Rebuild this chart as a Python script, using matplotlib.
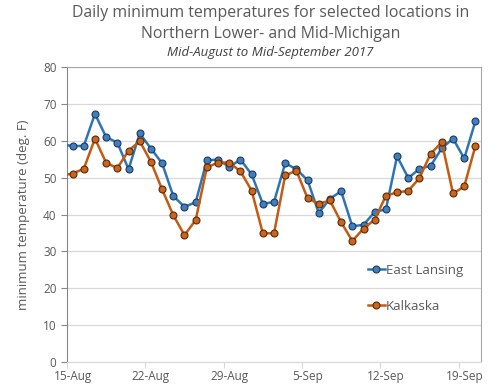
import numpy as np
import matplotlib.pyplot as plt

# days counted from 15-Aug (day 0); day -1 is 14-Aug, clipped by the axis
days = np.arange(-1, 37)
east_lansing = [59.0, 58.6, 58.6, 67.3, 61.0, 59.5, 52.3, 62.0, 57.9, 53.9, 45.0,
                42.1, 43.3, 54.7, 54.9, 52.9, 54.9, 50.9, 42.9, 43.4, 53.9,
                52.3, 49.3, 40.4, 44.3, 46.3, 36.8, 37.2, 40.7, 41.4, 55.8,
                49.9, 52.4, 53.2, 58.0, 60.6, 55.2, 65.3]
kalkaska = [50.6, 51.1, 52.4, 60.6, 54.0, 52.6, 57.3, 59.9, 54.3, 46.8, 39.8,
            34.4, 38.5, 52.8, 54.1, 54.1, 51.7, 46.5, 34.9, 34.9, 50.6,
            51.9, 44.4, 42.9, 43.8, 37.9, 32.8, 36.2, 38.6, 45.1, 46.0,
            46.4, 49.9, 56.5, 59.6, 45.7, 47.6, 58.6]
tick_days = [0, 7, 14, 21, 28, 35]
tick_labels = ['15-Aug', '22-Aug', '29-Aug', '5-Sep', '12-Sep', '19-Sep']

plt.rcParams['font.family'] = ['Open Sans', 'DejaVu Sans']
gray = '#595959'

fig = plt.figure(figsize=(5, 3.9), dpi=100)
ax = fig.add_axes([0.134, 0.072, 0.828, 0.756])

ax.plot(days, east_lansing, color='#2e75b6', lw=1.8, marker='o', ms=5,
        mfc='#3f7fc0', mec='#1f3a5a', mew=0.8, label='East Lansing', zorder=3)
ax.plot(days, kalkaska, color='#c55a11', lw=1.8, marker='o', ms=5,
        mfc='#c8651e', mec='#5a2a08', mew=0.8, label='Kalkaska', zorder=3)

ax.set_xlim(-0.5, 36.5)
ax.set_ylim(0, 80)
ax.set_yticks(range(0, 81, 10))
ax.yaxis.grid(True, color='#d9d9d9', lw=0.9)
ax.set_axisbelow(True)

ax.set_xticks([d - 0.5 for d in tick_days])
ax.set_xticklabels([])
ax.set_xticks(tick_days, minor=True)
ax.set_xticklabels(tick_labels, minor=True)
ax.tick_params(axis='x', which='major', length=4, color='#d9d9d9')
ax.tick_params(axis='x', which='minor', length=0, labelsize=8.5, labelcolor=gray, pad=6)
ax.tick_params(axis='y', length=4, color='#868686', labelsize=8.5, labelcolor=gray)

for s in ['top', 'right', 'left']:
    ax.spines[s].set_color('#a6a6a6')
ax.spines['left'].set_color('#868686')
ax.spines['bottom'].set_color('#d9d9d9')

ax.set_ylabel('minimum temperature (deg. F)', fontsize=9.5, color=gray, labelpad=9)

fig.text(0.541, 0.967, 'Daily minimum temperatures for selected locations in',
         ha='center', va='center', fontsize=11.4, color=gray)
fig.text(0.541, 0.913, 'Northern Lower- and Mid-Michigan',
         ha='center', va='center', fontsize=11.4, color=gray)
fig.text(0.541, 0.866, 'Mid-August to Mid-September 2017',
         ha='center', va='center', fontsize=9.5, color='#404040', style='italic')

ax.legend(loc='center right', bbox_to_anchor=(0.97, 0.25), frameon=False,
          fontsize=9.5, labelcolor=gray, handlelength=1.3, handletextpad=0.1,
          labelspacing=1.75, borderaxespad=0)

fig.savefig('out.png')
